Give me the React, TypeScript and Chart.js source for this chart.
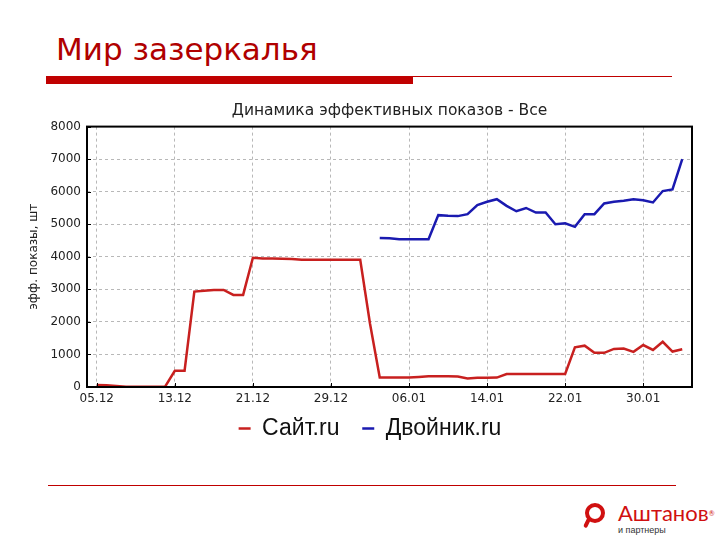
import React, { useEffect, useRef } from "react";
import { Chart, registerables } from "chart.js";

Chart.register(...registerables);

// x axis: day index, 0 = 05.12
const tickDays = [0, 8, 16, 24, 32, 40, 48, 56];
const tickLabels = ["05.12", "13.12", "21.12", "29.12", "06.01", "14.01", "22.01", "30.01"];

// Сайт.ru — one value per day starting at day 0 (05.12)
const siteValues = [
  60, 50, 30, 10, 10, 10, 10, 10, 500, 500,
  2930, 2960, 2980, 2980, 2830, 2830, 3970, 3950, 3950, 3940,
  3930, 3910, 3910, 3910, 3910, 3910, 3910, 3910, 1950, 290,
  290, 290, 290, 310, 330, 330, 330, 320, 260, 285,
  285, 290, 400, 400, 400, 400, 400, 400, 400, 1220,
  1270, 1050, 1050, 1170, 1180, 1080, 1290, 1140, 1390, 1090,
  1160,
];

// Двойник.ru — one value per day starting at day 29
const twinStartDay = 29;
const twinValues = [
  4580, 4570, 4540, 4540, 4540, 4540, 5280, 5260, 5250, 5310,
  5590, 5690, 5770, 5565, 5400, 5500, 5360, 5360, 5000, 5030,
  4920, 5310, 5310, 5640, 5690, 5720, 5770, 5740, 5670, 6020,
  6070, 7000,
];

const seriesNames = ["Сайт.ru", "Двойник.ru"];
const chartTitle = "Динамика эффективных показов - Все";
const yAxisTitle = "эфф. показы, шт";
const yMax = 8000;
const yStep = 1000;
const xMin = -1;
const xMax = 61;

const framePlugin = {
  id: "frame",
  afterDatasetsDraw(chart: any) {
    const { ctx, chartArea } = chart;
    const { left, top, right, bottom } = chartArea;
    ctx.save();
    ctx.strokeStyle = "#000";
    // small inward tick marks
    ctx.beginPath();
    const ys = chart.scales.y;
    ys.ticks.forEach((t: any) => {
      const py = Math.round(ys.getPixelForValue(t.value)) + 0.5;
      ctx.moveTo(left, py);
      ctx.lineTo(left + 4, py);
    });
    const xs = chart.scales.x;
    xs.ticks.forEach((t: any) => {
      const px = Math.round(xs.getPixelForValue(t.value)) + 0.5;
      ctx.moveTo(px, bottom);
      ctx.lineTo(px, bottom - 4);
    });
    ctx.lineWidth = 1;
    ctx.stroke();
    ctx.lineWidth = 2;
    ctx.strokeRect(left, top, right - left, bottom - top);
    ctx.restore();
  },
};

function SlideChart() {
  const ref = useRef<HTMLCanvasElement | null>(null);
  useEffect(() => {
    if (!ref.current) return;
    const siteData = siteValues.map((v, i) => ({ x: i, y: v }));
    const twinData = twinValues.map((v, i) => ({ x: twinStartDay + i, y: v }));
    const defaultLabels = Chart.defaults.plugins.legend.labels.generateLabels;
    const chart = new Chart(ref.current, {
      type: "line",
      data: {
        datasets: [
          {
            label: seriesNames[0],
            data: siteData,
            borderColor: "#c8201f",
            backgroundColor: "#c8201f",
            borderWidth: 2.5,
            pointRadius: 0,
            tension: 0,
          },
          {
            label: seriesNames[1],
            data: twinData,
            borderColor: "#1a1ab0",
            backgroundColor: "#1a1ab0",
            borderWidth: 2.5,
            pointRadius: 0,
            tension: 0,
          },
        ],
      },
      options: {
        animation: false,
        responsive: false,
        layout: { padding: { left: 48, right: 28, top: 2, bottom: 0 } },
        plugins: {
          title: {
            display: true,
            fullSize: false,
            text: chartTitle,
            color: "#222",
            font: { family: "DejaVu Sans", size: 15.5, weight: "normal" },
            padding: { top: 5, bottom: 6 },
          },
          legend: {
            position: "bottom",
            labels: {
              usePointStyle: true,
              pointStyle: "line",
              pointStyleWidth: 12,
              color: "#111",
              font: { family: "Liberation Sans", size: 23 },
              padding: 10,
              generateLabels: (c: any) => {
                const items = defaultLabels(c);
                // a little extra room between the two entries
                if (items.length > 1) items[0].text = items[0].text + "\u2007";
                return items;
              },
            },
          },
          tooltip: { enabled: false },
        },
        scales: {
          x: {
            type: "linear",
            min: xMin,
            max: xMax,
            afterBuildTicks: (scale: any) => {
              scale.ticks = tickDays.map((d) => ({ value: d }));
            },
            afterFit: (scale: any) => {
              scale.height = 20;
            },
            ticks: {
              callback: (value: any) => {
                const idx = tickDays.indexOf(Number(value));
                return idx >= 0 ? tickLabels[idx] : "";
              },
              color: "#222",
              font: { family: "DejaVu Sans", size: 12 },
              padding: 5,
              maxRotation: 0,
              autoSkip: false,
            },
            grid: {
              color: "#b8b8b8",
              drawTicks: false,
            },
            border: { display: false, dash: [3, 3] },
          },
          y: {
            min: 0,
            max: yMax,
            afterFit: (scale: any) => {
              scale.width = 39;
            },
            ticks: {
              stepSize: yStep,
              color: "#222",
              font: { family: "DejaVu Sans", size: 12 },
              padding: 6,
              callback: (value: any) => String(value),
            },
            title: {
              display: true,
              text: yAxisTitle,
              color: "#222",
              font: { family: "DejaVu Sans", size: 12 },
              padding: { top: -21, bottom: 4 },
            },
            grid: {
              color: "#b8b8b8",
              drawTicks: false,
            },
            border: { display: false, dash: [3, 3] },
          },
        },
      },
      plugins: [framePlugin],
    });
    return () => chart.destroy();
  }, []);
  return (
    <canvas
      ref={ref}
      width={720}
      height={355}
      style={{ position: "absolute", left: 0, top: 95, width: 720, height: 355 }}
    />
  );
}

export default function App() {
  const red = "#c00000";
  return (
    <div
      style={{
        position: "absolute",
        left: 0,
        top: 0,
        width: 720,
        height: 540,
        background: "#fff",
        overflow: "hidden",
      }}
    >
      <div
        style={{
          position: "absolute",
          left: 56,
          top: 29,
          fontFamily: "DejaVu Sans",
          fontSize: 31,
          color: "#b00000",
          whiteSpace: "nowrap",
          lineHeight: "40px",
        }}
      >
        Мир зазеркалья
      </div>
      <div style={{ position: "absolute", left: 46, top: 76, width: 367, height: 8, background: red }} />
      <div style={{ position: "absolute", left: 413, top: 76, width: 259, height: 1, background: red }} />
      <SlideChart />
      <div style={{ position: "absolute", left: 48, top: 485, width: 628, height: 1, background: red }} />
      {/* logo */}
      <div
        style={{
          position: "absolute",
          left: 585,
          top: 503,
          width: 12,
          height: 12,
          border: "4px solid #d01010",
          borderRadius: "50%",
        }}
      />
      <div
        style={{
          position: "absolute",
          left: 585,
          top: 518,
          width: 4,
          height: 10,
          background: "#d01010",
          transform: "rotate(25deg)",
          borderRadius: 2,
        }}
      />
      <div
        style={{
          position: "absolute",
          left: 618,
          top: 500,
          fontFamily: "Lato, Liberation Sans",
          fontSize: 22,
          color: "#d01010",
          whiteSpace: "nowrap",
          lineHeight: "26px",
        }}
      >
        Аштанов<span style={{ fontSize: 7, verticalAlign: "top" }}>®</span>
      </div>
      <div
        style={{
          position: "absolute",
          left: 618,
          top: 525,
          fontFamily: "Liberation Sans",
          fontSize: 9,
          color: "#333",
          whiteSpace: "nowrap",
          lineHeight: "11px",
        }}
      >
        и партнеры
      </div>
    </div>
  );
}
